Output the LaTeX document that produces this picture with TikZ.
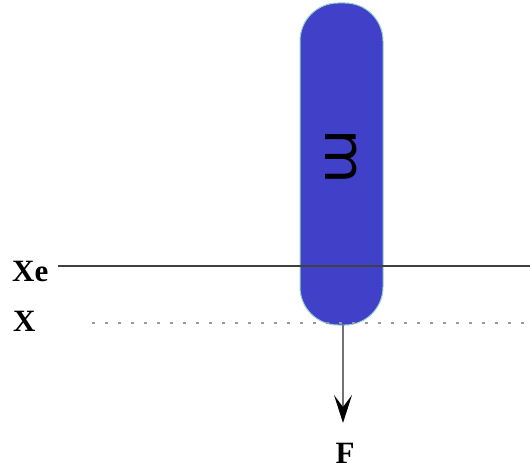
\documentclass[tikz,border=0pt]{standalone}
\usepackage{fontspec}
\setmainfont{Liberation Serif}
\setsansfont{DejaVu Sans}
\usetikzlibrary{arrows.meta}
\definecolor{massblue}{RGB}{64,64,200}
\definecolor{edgeteal}{RGB}{150,210,200}
\tikzset{
  lbl/.style={font=\bfseries\fontsize{31}{31}\selectfont, inner sep=0pt},
  refline/.style={draw=black!75, line width=2.2pt},
  dotline/.style={draw=black!40, line width=2.6pt, dash pattern=on 2.6pt off 10.4pt},
}
\begin{document}
\begin{tikzpicture}[x=1pt,y=1pt]
\useasboundingbox (0,0) rectangle (530,475);
% mass body
\node[draw=edgeteal, line width=1pt, fill=massblue, rounded corners=38pt,
      minimum width=83pt, minimum height=322pt, inner sep=0pt] (mass) at (341.5,311) {};
\node[rotate=-90, font=\sffamily\fontsize{56}{56}\selectfont, inner sep=0pt] (mlabel) at (341,318) {m};
% labels
\node[lbl, anchor=base west] (xe) at (12,194) {Xe};
\node[lbl, anchor=base west] (x) at (13,144) {X};
\node[lbl, anchor=base] (f) at (345,12) {F};
% lines
\coordinate (xestart) at (58,209);
\coordinate (xeend) at (530,209);
\coordinate (xstart) at (92,152);
\coordinate (xend) at (530,152);
\draw[refline] (xestart) -- (xeend);
\draw[dotline] (xstart) -- (xend);
% force arrow
\coordinate (ftop) at (343,150);
\coordinate (ftip) at (343,52);
\draw[draw=black!55, line width=1.6pt, -{Stealth[length=28pt,width=18pt,inset=12pt,color=black]}] (ftop) -- (ftip);
\end{tikzpicture}
\end{document}
